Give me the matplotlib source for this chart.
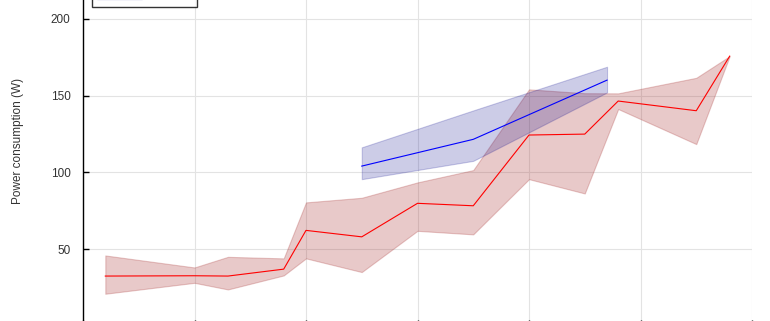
import matplotlib
matplotlib.use("Agg")
import matplotlib.pyplot as plt
from matplotlib.patches import Patch

plt.rcParams['font.family'] = ['Liberation Sans', 'DejaVu Sans']

# Data
red_x = [0.2, 1.0, 1.3, 1.8, 2.0, 2.5, 3.0, 3.5, 4.0, 4.5, 4.8, 5.5, 5.8]
red_mean = [32.6, 32.8, 32.6, 37.1, 62.3, 58.1, 79.9, 78.3, 124.3, 124.9, 146.4, 140.1, 175.6]
red_upper = [46.0, 38.2, 45.1, 44.1, 80.5, 83.5, 93.5, 101.5, 154.0, 151.5, 151.4, 161.5, 175.6]
red_lower = [21.1, 28.2, 23.9, 33.0, 44.1, 35.2, 62.0, 59.7, 95.6, 86.3, 141.2, 118.4, 175.6]

blue_x = [2.5, 3.5, 4.7]
blue_mean = [104.1, 121.5, 160.0]
blue_upper = [116.3, 140.3, 168.7]
blue_lower = [95.6, 107.5, 152.0]

legend_labels = ["1 GPU", "2 GPUs"]
xticks = [0, 1, 2, 3, 4, 5, 6]
yticks = [0, 50, 100, 150, 200]
ylabel = "Power consumption (W)"

W, H = 770, 321
fig = plt.figure(figsize=(W / 100, H / 100), dpi=100)

ytop = 225.0
ppu = 1.538
y0_px = 326.2
top_px = y0_px - ytop * ppu
left_px, right_px = 83, 752
ax = fig.add_axes([left_px / W, (H - y0_px) / H, (right_px - left_px) / W, (y0_px - top_px) / H])
ax.set_xlim(0, 6)
ax.set_ylim(0, ytop)

ax.fill_between(red_x, red_lower, red_upper, color='brown', alpha=0.25, lw=0.8)
ax.plot(red_x, red_mean, color='red', lw=0.8)
ax.fill_between(blue_x, blue_lower, blue_upper, color='darkblue', alpha=0.2, lw=0.8)
ax.plot(blue_x, blue_mean, color='blue', lw=0.8)

ax.set_xticks(xticks)
ax.set_yticks(yticks)
ax.set_yticklabels(["" if v == 0 else str(v) for v in yticks])
ax.grid(True, color='#e3e3e3', lw=0.8)
ax.set_axisbelow(True)
for s in ['top', 'right']:
    ax.spines[s].set_visible(False)
for s in ['left', 'bottom']:
    ax.spines[s].set_color('black')
    ax.spines[s].set_linewidth(1.0)
ax.tick_params(direction='in', length=4, width=1, pad=9, labelsize=8.5, labelcolor='#333333')

fig.text(18 / W, 1 - 140.5 / H, ylabel, rotation=90, ha='center', va='center', fontsize=8.5, color='#333333')

handles = [Patch(facecolor='brown', alpha=0.25, edgecolor='brown'),
           Patch(facecolor='darkblue', alpha=0.25, edgecolor='darkblue')]
leg = fig.legend(handles, legend_labels, loc='lower left', bbox_to_anchor=(92 / W, 1 - 6.5 / H),
                 fontsize=8.5, handlelength=3.8, frameon=True, fancybox=False, borderaxespad=0)
leg.get_frame().set_edgecolor('black')
leg.get_frame().set_linewidth(1.0)

fig.savefig("out.png", dpi=100)
